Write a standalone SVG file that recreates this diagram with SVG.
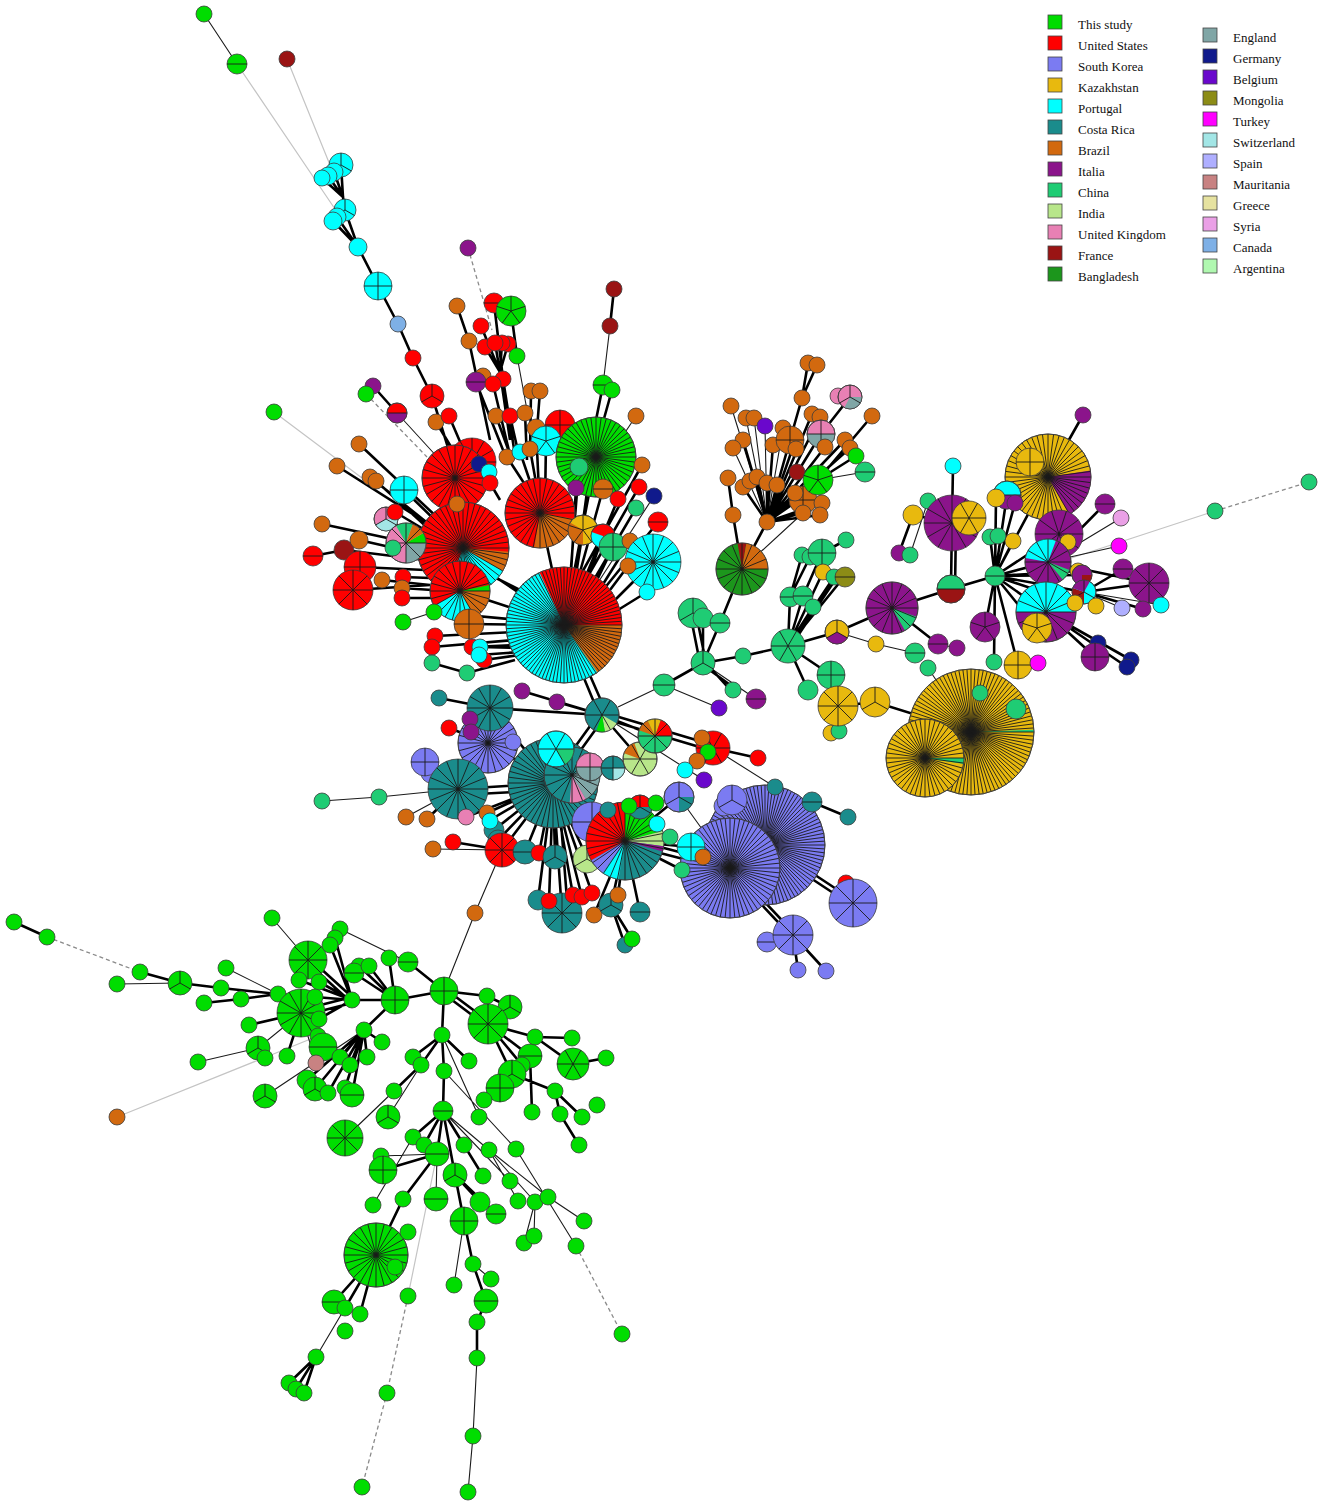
<svg xmlns="http://www.w3.org/2000/svg" xmlns:xlink="http://www.w3.org/1999/xlink" width="1325" height="1508" viewBox="0 0 1325 1508">
<style>
.g{fill:#00DD00}.us{fill:#FF0000}.sk{fill:#7B7BF2}.kz{fill:#E8B90E}.pt{fill:#00FFFF}.cr{fill:#1A8C8C}.br{fill:#D2690F}.it{fill:#8B148B}.cn{fill:#1FCC74}.in{fill:#B8E68A}.uk{fill:#E880B4}.fr{fill:#9A1414}.bd{fill:#1C961C}.en{fill:#80A6A6}.de{fill:#101A8C}.be{fill:#6A08CC}.mn{fill:#8C8C16}.tr{fill:#FF00FF}.ch{fill:#A3E6E6}.es{fill:#AFAFFF}.mr{fill:#C88282}.gr{fill:#E6E2A0}.sy{fill:#EAA0E6}.ca{fill:#7EB0E6}.ar{fill:#B0F8B0}
.nd circle{stroke:#3c3c3c;stroke-width:.8px}
.o{fill:none}
defs path{fill:none;stroke:#1a1a1a;stroke-width:.9px;vector-effect:non-scaling-stroke}
.e1{fill:none;stroke:#000;stroke-width:2.6px}
.e2{fill:none;stroke:#1a1a1a;stroke-width:1.1px}
.e3{fill:none;stroke:#c4c4c4;stroke-width:1.2px}
.e4{fill:none;stroke:#8a8a8a;stroke-width:1.3px;stroke-dasharray:4 3}
.lg rect{stroke:#444;stroke-width:.8px}
.lg text{font-family:"Liberation Serif","Times New Roman",serif;font-size:13px;fill:#111}
</style>
<defs>
<path id="s2" d="M-1 0H1"/>
<path id="s3" d="M0 0V-1M0 0L.87 .5M0 0L-.87 .5"/>
<path id="s4" d="M-1 0H1M0-1V1"/>
<path id="s5" d="M0 0V-1M0 0L.95-.31M0 0L.59 .81M0 0L-.59 .81M0 0L-.95-.31"/>
<path id="s6" d="M-1 0H1M-.5-.87L.5 .87M.5-.87L-.5 .87"/>
<path id="s8" d="M-1 0H1M0-1V1M-.71-.71L.71 .71M.71-.71L-.71 .71"/>
<path id="s10" d="M-1 0H1M-.81-.59L.81 .59M-.31-.95L.31 .95M.31-.95L-.31 .95M.81-.59L-.81 .59"/>
<path id="s12" d="M-1 0H1M0-1V1M-.87-.5L.87 .5M-.5-.87L.5 .87M.87-.5L-.87 .5M.5-.87L-.5 .87"/>
<path id="s16" d="M-1 0H1M0-1V1M-.71-.71L.71 .71M.71-.71L-.71 .71M-.92-.38L.92 .38M-.38-.92L.38 .92M.92-.38L-.92 .38M.38-.92L-.38 .92"/>
<g id="s24"><use href="#s12"/><use href="#s12" transform="rotate(15)"/></g>
<g id="s32"><use href="#s16"/><use href="#s16" transform="rotate(11.25)"/></g>
<g id="s48"><use href="#s16"/><use href="#s16" transform="rotate(7.5)"/><use href="#s16" transform="rotate(15)"/></g>
<g id="s64"><use href="#s32"/><use href="#s32" transform="rotate(5.625)"/></g>
<g id="s96"><use href="#s32"/><use href="#s32" transform="rotate(3.75)"/><use href="#s32" transform="rotate(7.5)"/></g>
</defs>
<rect width="1325" height="1508" fill="#fff"/>
<g id="connectors">
<path class="e3" d="M117 1117L318 1036M437 1154L408 1296M237 64L337 212M287 59L330 165M274 412L362 478M1215 511L1050 565"/>
<path class="e4" d="M47 937L140 972M576 1246L622 1334M408 1296L387 1393L362 1487M468 248L492 330M366 394L427 457M1215 511L1309 482"/>
<path class="e2" d="M204 14L237 64M610 326L603 385M636 416L620 440M517 356L527 410M397 413L440 460M403 622L434 612M433 849L502 850M502 850L475 913L444 991M654 496L590 595M713 748L775 787M618 707L664 685M664 685L719 708M703 663L756 699M742 569L803 513M733 448L767 522M767 522L731 406M767 522L746 418M767 522L754 418M767 522L765 426M767 522L783 428M865 472L818 480M837 632L876 644L915 653M938 644L957 648M928 668L971 732M928 501L910 555M1048 562L1121 518M1048 562L1119 546M1084 592L1122 608M1084 592L1161 605M1018 665L1038 663M602 715L704 780M730 868L679 797M322 801L379 797L458 789M406 817L458 789M117 984L180 983M226 968L278 994M272 918L308 960M340 929L408 962M258 1048L301 1013M265 1058L258 1048M198 1062L258 1048M316 1063L301 1013M265 1096L364 1030M443 1111L489 1150M443 1111L510 1181M394 1091L345 1138M388 1117L421 1065M413 1137L373 1205M437 1154L436 1199M464 1221L454 1285M473 1264L491 1279M477 1358L473 1436L468 1492M345 1308L316 1357M442 1035L479 1117M444 1071L516 1149L576 1246M489 1150L518 1201M489 1150L535 1202M489 1150L548 1197L584 1221M535 1202L524 1243M535 1202L534 1236M437 1154L381 1156"/>
<path class="e1" d="M358 247L378 286L398 324L413 358L432 396L455 470M341 165L343 197M334 172L343 197M328 176L343 197M322 178L343 197M343 197L345 210M345 210L358 247M337 217L358 247M333 221L358 247M457 306L469 341L490 440M481 326L500 372M485 347L500 372M495 343L500 372M502 343L500 372M508 344L500 372M500 372L510 440M494 303L503 379M511 311L517 356M476 382L505 455M493 384L510 455M503 379L515 455M496 416L512 460M510 416L520 460M525 413L527 460M531 391L530 455M540 391L535 455M436 422L465 470M449 416L470 465M614 289L610 326M603 385L592 440M612 390L598 440M373 386L397 413M359 444L440 520M337 466L430 525M370 477L430 525M375 480L430 530M322 524L420 545M313 556L344 550L425 560M359 540L425 555M360 567L425 570M353 590L430 585M382 580L430 585M403 577L430 578M402 588L432 590M402 598L435 598M404 490L440 525M386 519L425 540M395 512L425 530M455 478L463 548M470 560L560 620M480 570L560 610M460 591L564 625M469 624L564 625M540 513L564 625M596 457L564 625M590 470L575 580M579 467L570 580M576 488L570 590M603 489L575 590M639 487L580 590M642 465L575 585M618 499L580 590M636 508L585 595M658 522L595 600M583 530L572 600M603 536L580 600M613 547L585 605M630 541L590 605M628 566L595 610M653 562L600 615M647 592L605 618M536 428L540 513M507 457L535 500M520 452L538 505M530 449L540 505M546 441L545 505M434 612L520 620M435 636L515 632M432 647L515 640M472 647L520 645M480 647L520 648M479 655L520 652M484 660L520 655M432 663L467 673L515 660M490 483L500 500M479 464L490 480M562 625L598 712M568 625L606 712M598 715L549 783M606 715L557 783M490 708L439 698M490 708L602 715M522 691L602 715M557 702L602 715M465 718L488 743M488 743L449 728M488 743L553 783M490 708L553 783M458 789L553 783M458 795L553 790M425 762L458 789M431 772L458 789M427 819L458 789M466 817L553 783M487 813L553 783M490 820L553 783M494 830L553 783M498 840L553 783M502 850L553 783M525 852L553 783M539 853L553 783M555 855L553 783M587 858L553 783M625 841L553 783M625 848L553 790M453 842L502 850M538 900L553 783M549 902L553 783M562 913L553 783M568 913L558 783M573 895L553 783M582 897L553 783M592 893L553 783M594 915L625 841M611 905L625 841M618 895L625 841M640 912L625 841M625 945L611 905M632 939L611 905M602 715L655 736M602 715L640 759M602 712L713 745M602 718L713 751M713 748L758 758M625 841L679 797M625 841L691 847M625 838L730 865M625 844L730 871M625 841L657 824M625 841L670 836M625 841L682 870M625 841L608 810M625 841L629 806M625 841L640 807M625 841L656 803M730 868L732 800M765 845L732 800M765 845L812 802L848 817M765 842L853 900M765 848L853 906M853 903L846 883M730 865L793 932M730 871L793 938M793 935L767 942M793 935L798 970M793 935L826 971M664 685L703 663M700 663L690 613M706 663L696 613M703 663L703 618M703 663L720 623L742 569M703 663L743 656L788 646M700 663L733 687M706 663L733 693M742 569L767 522M742 569L733 515M728 478L733 515M767 522L790 440M767 522L773 445M767 522L793 447M767 522L743 440M767 522L743 487M767 522L757 477M767 522L767 483M767 522L777 485M767 522L795 493M767 522L803 497M767 522L822 503M767 522L803 513M767 522L820 515M767 522L812 414M767 522L820 417M767 522L821 434M767 522L825 447M767 522L845 440M767 522L850 448M767 522L818 480M802 398L808 363M802 398L817 365M802 398L790 440M821 434L850 397M872 416L818 480M856 456L818 480M797 472L818 480M788 646L790 597M788 646L803 596M788 646L813 607M790 597L802 555M790 597L810 557M803 596L822 553L846 540M788 646L834 577M791 646L837 577M788 646L844 577M788 646L823 572M788 646L837 632L892 608M892 608L938 644M788 646L831 675L838 706L875 702L971 732M788 646L808 690M838 706L831 733M838 706L839 731M892 608L951 589L995 576M951 586L952 520M955 589L956 523M952 523L953 466M952 523L913 515L899 553M995 576L1013 541M995 576L990 537M995 576L1007 495M995 576L996 498M995 576L1015 503M995 576L1059 534M995 576L1048 562M995 576L1046 612M995 576L985 627M995 576L994 662M995 576L1018 665M995 576L1037 628M995 576L1048 477M995 576L1082 575M995 576L1084 592M995 576L1078 571M995 576L1075 603M1048 477L1083 415M1048 477L1059 534M1048 562L1105 504M1048 562L1149 583M1084 592L1123 569M1084 592L1149 583M1084 592L1143 609M1046 612L1095 657L1098 643M1046 612L1131 660M1046 612L1127 667M14 922L47 937M140 972L180 983L221 988L278 994M204 1003L241 999L278 994M249 1025L301 1013M278 994L352 1000M301 1010L352 997M301 1016L352 1003M308 957L352 997M308 963L352 1003M335 938L352 1000M330 945L352 1000M299 980L352 1000M319 982L352 1000M315 997L352 1000M319 1019L352 1000M352 1000L395 1000M354 973L395 1000M369 966L395 1000M359 966L395 1000M389 958L395 1000M408 962L444 991M395 1000L444 991L487 996L510 1007M444 988L488 1021M444 994L488 1027M444 991L442 1035L413 1057M442 1035L421 1065L394 1091M442 1035L444 1071L443 1111M442 1035L469 1061M488 1024L535 1037L572 1038M535 1037L573 1064L606 1058M488 1024L530 1056L532 1112M488 1024L522 1065M488 1024L512 1074L500 1088L484 1100M512 1074L555 1091L560 1114L579 1145M555 1091L582 1117M443 1111L413 1137M443 1111L424 1145M443 1111L437 1154M443 1111L464 1145M443 1111L455 1175M443 1111L483 1176M437 1154L403 1199L376 1255M455 1175L464 1221L473 1264L486 1301L477 1322L477 1358M455 1175L480 1202M455 1175L496 1214M376 1255L334 1302M376 1255L345 1308M376 1255L360 1314M316 1357L289 1383M316 1357L296 1389M316 1357L304 1393M364 1030L395 1000M364 1030L315 1089M364 1030L307 1080M364 1030L328 1093M364 1030L340 1057M364 1030L350 1065M364 1030L345 1088M364 1030L352 1095M364 1030L367 1057M364 1030L382 1042M301 1013L318 1036M301 1013L323 1047M301 1013L287 1056M437 1154L383 1170"/>
</g>
<g id="nodes" class="nd">
<g id="n1"><circle class="g" cx="204" cy="14" r="8"/></g>
<g id="n2"><circle class="g" cx="237" cy="64" r="10"/><use href="#s2" transform="translate(237 64) scale(10)"/></g>
<g id="n3"><circle class="fr" cx="287" cy="59" r="8"/></g>
<g id="n4"><circle class="pt" cx="341" cy="165" r="12"/><use href="#s3" transform="translate(341 165) scale(12)"/></g>
<g id="n5"><circle class="pt" cx="334" cy="172" r="9"/></g>
<g id="n6"><circle class="pt" cx="328" cy="176" r="9"/></g>
<g id="n7"><circle class="pt" cx="322" cy="178" r="8"/></g>
<g id="n8"><circle class="pt" cx="345" cy="210" r="11"/><use href="#s3" transform="translate(345 210) scale(11)"/></g>
<g id="n9"><circle class="pt" cx="337" cy="217" r="9"/></g>
<g id="n10"><circle class="pt" cx="333" cy="221" r="9"/></g>
<g id="n11"><circle class="pt" cx="358" cy="247" r="9"/></g>
<g id="n12"><circle class="pt" cx="378" cy="286" r="14"/><use href="#s4" transform="translate(378 286) scale(14)"/></g>
<g id="n13"><circle class="ca" cx="398" cy="324" r="8"/></g>
<g id="n14"><circle class="us" cx="413" cy="358" r="8"/></g>
<g id="n15"><circle class="us" cx="432" cy="396" r="12"/><use href="#s3" transform="translate(432 396) scale(12)"/></g>
<g id="n16"><circle class="it" cx="468" cy="248" r="8"/></g>
<g id="n17"><circle class="us" cx="494" cy="303" r="10"/><use href="#s2" transform="translate(494 303) scale(10)"/></g>
<g id="n18"><circle class="g" cx="511" cy="311" r="15"/><use href="#s5" transform="translate(511 311) scale(15)"/></g>
<g id="n19"><circle class="br" cx="457" cy="306" r="8"/></g>
<g id="n20"><circle class="us" cx="481" cy="326" r="8"/></g>
<g id="n21"><circle class="br" cx="469" cy="341" r="8"/></g>
<g id="n22"><circle class="us" cx="485" cy="347" r="8"/></g>
<g id="n23"><circle class="us" cx="508" cy="344" r="8"/></g>
<g id="n24"><circle class="us" cx="502" cy="343" r="8"/></g>
<g id="n25"><circle class="us" cx="495" cy="343" r="8"/></g>
<g id="n26"><circle class="g" cx="517" cy="356" r="8"/></g>
<g id="n27"><circle class="br" cx="483" cy="376" r="8"/></g>
<g id="n28" transform="translate(476 382)"><circle class="it" r="10"/><use href="#s2" transform="scale(10)"/></g>
<g id="n29"><circle class="us" cx="503" cy="379" r="8"/></g>
<g id="n30"><circle class="us" cx="493" cy="384" r="8"/></g>
<g id="n31"><circle class="br" cx="496" cy="416" r="8"/></g>
<g id="n32"><circle class="us" cx="510" cy="416" r="8"/></g>
<g id="n33"><circle class="br" cx="525" cy="413" r="8"/></g>
<g id="n34"><circle class="br" cx="531" cy="391" r="8"/></g>
<g id="n35"><circle class="br" cx="540" cy="391" r="8"/></g>
<g id="n36"><circle class="br" cx="436" cy="422" r="8"/></g>
<g id="n37"><circle class="us" cx="449" cy="416" r="8"/></g>
<g id="n38"><circle class="fr" cx="614" cy="289" r="8"/></g>
<g id="n39"><circle class="fr" cx="610" cy="326" r="8"/></g>
<g id="n40"><circle class="g" cx="603" cy="385" r="10"/><use href="#s2" transform="translate(603 385) scale(10)"/></g>
<g id="n41"><circle class="g" cx="612" cy="390" r="8"/></g>
<g id="n42"><circle class="br" cx="636" cy="416" r="8"/></g>
<g id="n43"><circle class="g" cx="274" cy="412" r="8"/></g>
<g id="n44"><circle class="it" cx="373" cy="386" r="8"/></g>
<g id="n45"><circle class="g" cx="366" cy="394" r="8"/></g>
<g id="n46" transform="translate(397 413)"><circle class="us" r="10"/><circle class="o" r="5" pathLength="100" style="stroke:#8B148B;stroke-width:10px;stroke-dasharray:50 100"/><use href="#s2" transform="scale(10)"/><circle class="o" r="10"/></g>
<g id="n47"><circle class="br" cx="359" cy="444" r="8"/></g>
<g id="n48"><circle class="br" cx="337" cy="466" r="8"/></g>
<g id="n49"><circle class="br" cx="370" cy="477" r="8"/></g>
<g id="n50"><circle class="br" cx="376" cy="481" r="8"/></g>
<g id="n51"><circle class="br" cx="322" cy="524" r="8"/></g>
<g id="n52"><circle class="us" cx="313" cy="556" r="10"/><use href="#s2" transform="translate(313 556) scale(10)"/></g>
<g id="n53"><circle class="fr" cx="344" cy="550" r="10"/></g>
<g id="n54"><circle class="br" cx="359" cy="540" r="9"/></g>
<g id="n55"><circle class="us" cx="360" cy="567" r="16"/><use href="#s4" transform="translate(360 567) scale(16)"/></g>
<g id="n56"><circle class="us" cx="353" cy="590" r="20"/><use href="#s8" transform="translate(353 590) scale(20)"/></g>
<g id="n57"><circle class="br" cx="382" cy="580" r="8"/></g>
<g id="n58"><circle class="us" cx="403" cy="577" r="8"/></g>
<g id="n59"><circle class="br" cx="402" cy="588" r="8"/></g>
<g id="n60"><circle class="us" cx="402" cy="598" r="8"/></g>
<g id="n66"><circle class="us" cx="472" cy="462" r="24"/><use href="#s12" transform="translate(472 462) scale(24)"/></g>
<g id="n67" transform="translate(455 478)"><circle class="us" r="33"/><use href="#s24" transform="scale(33)"/><circle class="o" r="33"/></g>
<g id="n61"><circle class="pt" cx="404" cy="490" r="14"/><use href="#s4" transform="translate(404 490) scale(14)"/></g>
<g id="n62" transform="translate(386 519)"><circle class="uk" r="12"/><circle class="o" r="6" pathLength="100" style="stroke:#A3E6E6;stroke-width:12px;stroke-dasharray:41.7 100"/><use href="#s3" transform="scale(12)"/><circle class="o" r="12"/></g>
<g id="n63"><circle class="us" cx="395" cy="512" r="8"/></g>
<g id="n72" transform="translate(463 548)"><circle class="us" r="46"/><circle class="o" r="23" pathLength="100" style="stroke:#D2690F;stroke-width:46px;stroke-dasharray:6.94 100;stroke-dashoffset:-1.39"/><circle class="o" r="23" pathLength="100" style="stroke:#00FFFF;stroke-width:46px;stroke-dasharray:22.22 100;stroke-dashoffset:-8.33"/><use href="#s48" transform="scale(46)"/><circle class="o" r="46"/></g>
<g id="n64" transform="translate(406 543)"><circle class="uk" r="20"/><circle class="o" r="10" pathLength="100" style="stroke:#00DD00;stroke-width:20px;stroke-dasharray:8.3 100;stroke-dashoffset:-91.7"/><circle class="o" r="10" pathLength="100" style="stroke:#80A6A6;stroke-width:20px;stroke-dasharray:25 100"/><circle class="o" r="10" pathLength="100" style="stroke:#1FCC74;stroke-width:20px;stroke-dasharray:13.9 100;stroke-dashoffset:-66.7"/><circle class="o" r="10" pathLength="100" style="stroke:#D2690F;stroke-width:20px;stroke-dasharray:11.1 100;stroke-dashoffset:-80.6"/><use href="#s8" transform="scale(20)"/><circle class="o" r="20"/></g>
<g id="n65"><circle class="cn" cx="393" cy="548" r="8"/></g>
<g id="n73" transform="translate(460 591)"><circle class="us" r="30"/><circle class="o" r="15" pathLength="100" style="stroke:#00DD00;stroke-width:30px;stroke-dasharray:3.33 100;stroke-dashoffset:-96.67"/><circle class="o" r="15" pathLength="100" style="stroke:#D2690F;stroke-width:30px;stroke-dasharray:16.67 100"/><circle class="o" r="15" pathLength="100" style="stroke:#00FFFF;stroke-width:30px;stroke-dasharray:25 100;stroke-dashoffset:-16.67"/><use href="#s24" transform="scale(30)"/><circle class="o" r="30"/></g>
<g id="n74"><circle class="br" cx="469" cy="624" r="15"/><use href="#s4" transform="translate(469 624) scale(15)"/></g>
<g id="n68"><circle class="de" cx="479" cy="464" r="8"/></g>
<g id="n69"><circle class="pt" cx="489" cy="472" r="8"/></g>
<g id="n70"><circle class="us" cx="490" cy="483" r="8"/></g>
<g id="n71"><circle class="br" cx="457" cy="504" r="8"/></g>
<g id="n76"><circle class="us" cx="560" cy="425" r="15"/><use href="#s4" transform="translate(560 425) scale(15)"/></g>
<g id="n75" transform="translate(540 513)"><circle class="us" r="35"/><circle class="o" r="17.5" pathLength="100" style="stroke:#D2690F;stroke-width:35px;stroke-dasharray:25 100;stroke-dashoffset:-2.78"/><use href="#s32" transform="scale(35)"/><circle class="o" r="35"/></g>
<g id="n78"><circle class="br" cx="536" cy="428" r="9"/></g>
<g id="n77"><circle class="pt" cx="546" cy="441" r="15"/><use href="#s5" transform="translate(546 441) scale(15)"/></g>
<g id="n79"><circle class="br" cx="507" cy="457" r="8"/></g>
<g id="n80"><circle class="pt" cx="520" cy="452" r="8"/></g>
<g id="n81"><circle class="br" cx="530" cy="449" r="8"/></g>
<g id="n82" transform="translate(596 457)"><circle class="g" r="40"/><use href="#s48" transform="scale(40)"/><circle class="o" r="40"/></g>
<g id="n83"><circle class="cn" cx="579" cy="467" r="9"/></g>
<g id="n84"><circle class="it" cx="576" cy="488" r="8"/></g>
<g id="n85"><circle class="br" cx="603" cy="489" r="10"/><use href="#s2" transform="translate(603 489) scale(10)"/></g>
<g id="n86"><circle class="br" cx="642" cy="465" r="8"/></g>
<g id="n87"><circle class="us" cx="639" cy="487" r="8"/></g>
<g id="n88"><circle class="de" cx="654" cy="496" r="8"/></g>
<g id="n89"><circle class="us" cx="618" cy="499" r="8"/></g>
<g id="n90"><circle class="cn" cx="636" cy="508" r="8"/></g>
<g id="n91"><circle class="us" cx="658" cy="522" r="10"/><use href="#s2" transform="translate(658 522) scale(10)"/></g>
<g id="n92" transform="translate(583 530)"><circle class="kz" r="15"/><circle class="o" r="7.5" pathLength="100" style="stroke:#D2690F;stroke-width:15px;stroke-dasharray:33.3 100;stroke-dashoffset:-25"/><use href="#s5" transform="scale(15)"/><circle class="o" r="15"/></g>
<g id="n93" transform="translate(603 536)"><circle class="us" r="12"/><circle class="o" r="6" pathLength="100" style="stroke:#00FFFF;stroke-width:12px;stroke-dasharray:30.6 100;stroke-dashoffset:-25"/><circle class="o" r="12"/></g>
<g id="n94"><circle class="cn" cx="613" cy="547" r="14"/><use href="#s4" transform="translate(613 547) scale(14)"/></g>
<g id="n95"><circle class="br" cx="630" cy="541" r="8"/></g>
<g id="n97"><circle class="pt" cx="653" cy="562" r="28"/><use href="#s16" transform="translate(653 562) scale(28)"/></g>
<g id="n96"><circle class="br" cx="628" cy="566" r="8"/></g>
<g id="n98"><circle class="pt" cx="647" cy="592" r="8"/></g>
<g id="n99" transform="translate(564 625)"><circle class="pt" r="58"/><circle class="o" r="29" pathLength="100" style="stroke:#FF0000;stroke-width:58px;stroke-dasharray:31.94 100;stroke-dashoffset:-68.06"/><circle class="o" r="29" pathLength="100" style="stroke:#D2690F;stroke-width:58px;stroke-dasharray:15.28 100"/><use href="#s96" transform="scale(58)"/><circle class="o" r="58"/></g>
<g id="n100"><circle class="g" cx="434" cy="612" r="8"/></g>
<g id="n101"><circle class="g" cx="403" cy="622" r="8"/></g>
<g id="n102"><circle class="us" cx="435" cy="636" r="8"/></g>
<g id="n103"><circle class="us" cx="432" cy="647" r="8"/></g>
<g id="n104"><circle class="cn" cx="432" cy="663" r="8"/></g>
<g id="n105"><circle class="cn" cx="467" cy="673" r="8"/></g>
<g id="n106"><circle class="us" cx="472" cy="647" r="8"/></g>
<g id="n109"><circle class="us" cx="484" cy="660" r="8"/></g>
<g id="n107"><circle class="pt" cx="480" cy="647" r="8"/></g>
<g id="n108"><circle class="pt" cx="479" cy="655" r="8"/></g>
<g id="n110"><circle class="cr" cx="439" cy="698" r="8"/></g>
<g id="n113"><circle class="us" cx="449" cy="728" r="8"/></g>
<g id="n114"><circle class="it" cx="522" cy="691" r="8"/></g>
<g id="n115"><circle class="it" cx="557" cy="702" r="8"/></g>
<g id="n117" transform="translate(488 743)"><circle class="sk" r="30"/><use href="#s24" transform="scale(30)"/><circle class="o" r="30"/></g>
<g id="n118"><circle class="sk" cx="513" cy="742" r="8"/></g>
<g id="n116"><circle class="cr" cx="490" cy="708" r="23"/><use href="#s12" transform="translate(490 708) scale(23)"/></g>
<g id="n111"><circle class="it" cx="470" cy="719" r="8"/></g>
<g id="n112"><circle class="it" cx="471" cy="732" r="8"/></g>
<g id="n120"><circle class="sk" cx="431" cy="773" r="10"/></g>
<g id="n119"><circle class="sk" cx="425" cy="762" r="14"/><use href="#s4" transform="translate(425 762) scale(14)"/></g>
<g id="n121"><circle class="cr" cx="458" cy="789" r="30"/><use href="#s16" transform="translate(458 789) scale(30)"/></g>
<g id="n122"><circle class="cn" cx="322" cy="801" r="8"/></g>
<g id="n123"><circle class="cn" cx="379" cy="797" r="8"/></g>
<g id="n124"><circle class="br" cx="406" cy="817" r="8"/></g>
<g id="n125"><circle class="br" cx="427" cy="819" r="8"/></g>
<g id="n126"><circle class="uk" cx="466" cy="817" r="8"/></g>
<g id="n140" transform="translate(553 783)"><circle class="cr" r="45"/><use href="#s48" transform="scale(45)"/><circle class="o" r="45"/></g>
<g id="n141" transform="translate(572 775)"><circle class="cr" r="28"/><circle class="o" r="14" pathLength="100" style="stroke:#80A6A6;stroke-width:28px;stroke-dasharray:16.7 100"/><circle class="o" r="14" pathLength="100" style="stroke:#80A6A6;stroke-width:28px;stroke-dasharray:8.3 100;stroke-dashoffset:-91.7"/><circle class="o" r="14" pathLength="100" style="stroke:#E880B4;stroke-width:28px;stroke-dasharray:9.7 100;stroke-dashoffset:-16.7"/><use href="#s16" transform="scale(28)"/><circle class="o" r="28"/></g>
<g id="n129"><circle class="cr" cx="494" cy="830" r="10"/></g>
<g id="n130"><circle class="cr" cx="498" cy="840" r="10"/></g>
<g id="n127"><circle class="br" cx="487" cy="813" r="8"/></g>
<g id="n128"><circle class="pt" cx="490" cy="821" r="8"/></g>
<g id="n131"><circle class="br" cx="433" cy="849" r="8"/></g>
<g id="n132"><circle class="us" cx="453" cy="842" r="8"/></g>
<g id="n133"><circle class="us" cx="502" cy="850" r="17"/><use href="#s8" transform="translate(502 850) scale(17)"/></g>
<g id="n134"><circle class="cr" cx="525" cy="852" r="12"/><use href="#s2" transform="translate(525 852) scale(12)"/></g>
<g id="n135"><circle class="us" cx="539" cy="853" r="8"/></g>
<g id="n136"><circle class="cr" cx="555" cy="857" r="12"/><use href="#s3" transform="translate(555 857) scale(12)"/></g>
<g id="n138"><circle class="in" cx="587" cy="859" r="14"/><use href="#s3" transform="translate(587 859) scale(14)"/></g>
<g id="n142" transform="translate(556 749)"><circle class="pt" r="18"/><circle class="o" r="9" pathLength="100" style="stroke:#1FCC74;stroke-width:18px;stroke-dasharray:16.7 100"/><use href="#s6" transform="scale(18)"/><circle class="o" r="18"/></g>
<g id="n143" transform="translate(590 767)"><circle class="en" r="14"/><circle class="o" r="7" pathLength="100" style="stroke:#E880B4;stroke-width:14px;stroke-dasharray:50 100;stroke-dashoffset:-50"/><use href="#s4" transform="scale(14)"/><circle class="o" r="14"/></g>
<g id="n144" transform="translate(613 768)"><circle class="cr" r="12"/><circle class="o" r="6" pathLength="100" style="stroke:#A3E6E6;stroke-width:12px;stroke-dasharray:25 100"/><use href="#s4" transform="scale(12)"/><circle class="o" r="12"/></g>
<g id="n145" transform="translate(602 715)"><circle class="cr" r="17"/><circle class="o" r="8.5" pathLength="100" style="stroke:#B8E68A;stroke-width:17px;stroke-dasharray:13.9 100;stroke-dashoffset:-8.3"/><circle class="o" r="8.5" pathLength="100" style="stroke:#00DD00;stroke-width:17px;stroke-dasharray:8.3 100;stroke-dashoffset:-22.2"/><use href="#s6" transform="scale(17)"/><circle class="o" r="17"/></g>
<g id="n147" transform="translate(640 759)"><circle class="in" r="17"/><circle class="o" r="8.5" pathLength="100" style="stroke:#D2690F;stroke-width:17px;stroke-dasharray:13.9 100;stroke-dashoffset:-55.6"/><use href="#s6" transform="scale(17)"/><circle class="o" r="17"/></g>
<g id="n146" transform="translate(655 736)"><circle class="cn" r="17"/><circle class="o" r="8.5" pathLength="100" style="stroke:#D2690F;stroke-width:17px;stroke-dasharray:12.5 100;stroke-dashoffset:-55.6"/><circle class="o" r="8.5" pathLength="100" style="stroke:#E8B90E;stroke-width:17px;stroke-dasharray:12.5 100;stroke-dashoffset:-68"/><circle class="o" r="8.5" pathLength="100" style="stroke:#FF0000;stroke-width:17px;stroke-dasharray:19.4 100;stroke-dashoffset:-80.6"/><use href="#s8" transform="scale(17)"/><circle class="o" r="17"/></g>
<g id="n148"><circle class="us" cx="713" cy="748" r="17"/><use href="#s6" transform="translate(713 748) scale(17)"/></g>
<g id="n148b"><circle class="br" cx="702" cy="738" r="8"/></g>
<g id="n148c"><circle class="g" cx="708" cy="752" r="8"/></g>
<g id="n148d"><circle class="br" cx="697" cy="761" r="8"/></g>
<g id="n149"><circle class="us" cx="758" cy="758" r="8"/></g>
<g id="n151"><circle class="pt" cx="685" cy="770" r="8"/></g>
<g id="n150"><circle class="be" cx="704" cy="780" r="8"/></g>
<g id="n154"><circle class="sk" cx="592" cy="822" r="20"/><use href="#s4" transform="translate(592 822) scale(20)"/></g>
<g id="n153" transform="translate(625 841)"><circle class="cr" r="39"/><circle class="o" r="19.5" pathLength="100" style="stroke:#FF0000;stroke-width:39px;stroke-dasharray:33.3 100;stroke-dashoffset:-41.7"/><circle class="o" r="19.5" pathLength="100" style="stroke:#00DD00;stroke-width:39px;stroke-dasharray:20.8 100;stroke-dashoffset:-75"/><circle class="o" r="19.5" pathLength="100" style="stroke:#B8E68A;stroke-width:39px;stroke-dasharray:4.2 100;stroke-dashoffset:-95.8"/><circle class="o" r="19.5" pathLength="100" style="stroke:#B8E68A;stroke-width:39px;stroke-dasharray:2.2 100"/><circle class="o" r="19.5" pathLength="100" style="stroke:#8B148B;stroke-width:39px;stroke-dasharray:2.2 100;stroke-dashoffset:-2.2"/><circle class="o" r="19.5" pathLength="100" style="stroke:#00FFFF;stroke-width:39px;stroke-dasharray:6.9 100;stroke-dashoffset:-27.8"/><circle class="o" r="19.5" pathLength="100" style="stroke:#7B7BF2;stroke-width:39px;stroke-dasharray:6.9 100;stroke-dashoffset:-34.7"/><use href="#s32" transform="scale(39)"/><circle class="o" r="39"/></g>
<g id="n155"><circle class="cr" cx="608" cy="810" r="8"/></g>
<g id="n157" transform="translate(640 807)"><circle class="us" r="12"/><circle class="o" r="6" pathLength="100" style="stroke:#1A8C8C;stroke-width:12px;stroke-dasharray:50 100"/><use href="#s3" transform="scale(12)"/><circle class="o" r="12"/></g>
<g id="n156"><circle class="g" cx="629" cy="806" r="8"/></g>
<g id="n158"><circle class="g" cx="656" cy="803" r="8"/></g>
<g id="n159"><circle class="pt" cx="657" cy="824" r="8"/></g>
<g id="n165" transform="translate(765 845)"><circle class="sk" r="60"/><use href="#s96" transform="scale(60)"/><circle class="o" r="60"/></g>
<g id="n167b"><circle class="sk" cx="724" cy="806" r="10"/></g>
<g id="n167"><circle class="sk" cx="732" cy="800" r="15"/><use href="#s3" transform="translate(732 800) scale(15)"/></g>
<g id="n166" transform="translate(730 868)"><circle class="sk" r="50"/><use href="#s64" transform="scale(50)"/><circle class="o" r="50"/></g>
<g id="n161" transform="translate(679 797)"><circle class="sk" r="15"/><circle class="o" r="7.5" pathLength="100" style="stroke:#1A8C8C;stroke-width:15px;stroke-dasharray:25 100"/><use href="#s3" transform="scale(15)"/><circle class="o" r="15"/></g>
<g id="n160"><circle class="cn" cx="670" cy="837" r="8"/></g>
<g id="n162"><circle class="pt" cx="691" cy="847" r="14"/><use href="#s4" transform="translate(691 847) scale(14)"/></g>
<g id="n163"><circle class="br" cx="703" cy="857" r="8"/></g>
<g id="n164"><circle class="cn" cx="682" cy="870" r="8"/></g>
<g id="n168"><circle class="cr" cx="775" cy="787" r="8"/></g>
<g id="n169"><circle class="cr" cx="812" cy="802" r="10"/><use href="#s2" transform="translate(812 802) scale(10)"/></g>
<g id="n170"><circle class="cr" cx="848" cy="817" r="8"/></g>
<g id="n171"><circle class="us" cx="846" cy="883" r="8"/></g>
<g id="n172"><circle class="sk" cx="853" cy="903" r="24"/><use href="#s8" transform="translate(853 903) scale(24)"/></g>
<g id="n174"><circle class="sk" cx="767" cy="942" r="10"/><use href="#s2" transform="translate(767 942) scale(10)"/></g>
<g id="n173"><circle class="sk" cx="793" cy="935" r="20"/><use href="#s8" transform="translate(793 935) scale(20)"/></g>
<g id="n175"><circle class="sk" cx="798" cy="970" r="8"/></g>
<g id="n176"><circle class="sk" cx="826" cy="971" r="8"/></g>
<g id="n177"><circle class="cr" cx="538" cy="900" r="10"/></g>
<g id="n179"><circle class="cr" cx="562" cy="913" r="20"/><use href="#s8" transform="translate(562 913) scale(20)"/></g>
<g id="n178"><circle class="us" cx="549" cy="901" r="8"/></g>
<g id="n180"><circle class="us" cx="573" cy="895" r="8"/></g>
<g id="n180b"><circle class="us" cx="582" cy="897" r="8"/></g>
<g id="n181"><circle class="us" cx="592" cy="893" r="8"/></g>
<g id="n182"><circle class="br" cx="594" cy="915" r="8"/></g>
<g id="n183"><circle class="cr" cx="611" cy="905" r="12"/><use href="#s3" transform="translate(611 905) scale(12)"/></g>
<g id="n184"><circle class="br" cx="618" cy="895" r="8"/></g>
<g id="n185"><circle class="cr" cx="640" cy="912" r="10"/><use href="#s2" transform="translate(640 912) scale(10)"/></g>
<g id="n186"><circle class="cr" cx="625" cy="945" r="8"/></g>
<g id="n187"><circle class="g" cx="632" cy="939" r="8"/></g>
<g id="n188"><circle class="br" cx="475" cy="913" r="8"/></g>
<g id="c1"><circle class="cn" cx="693" cy="613" r="15"/><use href="#s3" transform="translate(693 613) scale(15)"/></g>
<g id="c2"><circle class="cn" cx="703" cy="618" r="10"/></g>
<g id="c3"><circle class="cn" cx="720" cy="623" r="10"/><use href="#s2" transform="translate(720 623) scale(10)"/></g>
<g id="c4"><circle class="cn" cx="703" cy="663" r="12"/><use href="#s3" transform="translate(703 663) scale(12)"/></g>
<g id="c5"><circle class="cn" cx="743" cy="656" r="8"/></g>
<g id="c7"><circle class="cn" cx="664" cy="685" r="11"/><use href="#s2" transform="translate(664 685) scale(11)"/></g>
<g id="c8"><circle class="cn" cx="733" cy="690" r="8"/></g>
<g id="c9"><circle class="it" cx="756" cy="699" r="10"/><use href="#s2" transform="translate(756 699) scale(10)"/></g>
<g id="c10"><circle class="be" cx="719" cy="708" r="8"/></g>
<g id="c11" transform="translate(742 569)"><circle class="bd" r="26"/><circle class="o" r="13" pathLength="100" style="stroke:#9A1414;stroke-width:26px;stroke-dasharray:5.56 100;stroke-dashoffset:-72.2"/><circle class="o" r="13" pathLength="100" style="stroke:#D2690F;stroke-width:26px;stroke-dasharray:22.22 100;stroke-dashoffset:-77.78"/><use href="#s16" transform="scale(26)"/><circle class="o" r="26"/></g>
<g id="b1"><circle class="br" cx="808" cy="363" r="8"/></g>
<g id="b2"><circle class="br" cx="817" cy="365" r="8"/></g>
<g id="b3"><circle class="br" cx="802" cy="398" r="8"/></g>
<g id="b4"><circle class="br" cx="731" cy="406" r="8"/></g>
<g id="b5"><circle class="br" cx="746" cy="418" r="8"/></g>
<g id="b6"><circle class="br" cx="754" cy="418" r="8"/></g>
<g id="b7"><circle class="be" cx="765" cy="426" r="8"/></g>
<g id="b8"><circle class="br" cx="783" cy="428" r="8"/></g>
<g id="b9"><circle class="br" cx="773" cy="445" r="8"/></g>
<g id="b10"><circle class="br" cx="790" cy="440" r="14"/><use href="#s4" transform="translate(790 440) scale(14)"/></g>
<g id="b11"><circle class="br" cx="796" cy="449" r="8"/></g>
<g id="b12"><circle class="br" cx="743" cy="440" r="8"/></g>
<g id="b13"><circle class="br" cx="733" cy="448" r="8"/></g>
<g id="b14"><circle class="br" cx="812" cy="414" r="8"/></g>
<g id="b15"><circle class="br" cx="820" cy="417" r="8"/></g>
<g id="b16"><circle class="uk" cx="838" cy="396" r="8"/></g>
<g id="b17" transform="translate(850 397)"><circle class="uk" r="12"/><circle class="o" r="6" pathLength="100" style="stroke:#80A6A6;stroke-width:12px;stroke-dasharray:33 100"/><use href="#s3" transform="scale(12)"/><circle class="o" r="12"/></g>
<g id="b18" transform="translate(821 434)"><circle class="uk" r="14"/><circle class="o" r="7" pathLength="100" style="stroke:#80A6A6;stroke-width:14px;stroke-dasharray:50 100"/><use href="#s4" transform="scale(14)"/><circle class="o" r="14"/></g>
<g id="b19"><circle class="br" cx="872" cy="416" r="8"/></g>
<g id="b20"><circle class="br" cx="825" cy="447" r="8"/></g>
<g id="b21"><circle class="br" cx="845" cy="440" r="8"/></g>
<g id="b22"><circle class="br" cx="850" cy="448" r="8"/></g>
<g id="b23"><circle class="g" cx="856" cy="456" r="8"/></g>
<g id="b24"><circle class="cn" cx="865" cy="472" r="10"/><use href="#s2" transform="translate(865 472) scale(10)"/></g>
<g id="b25"><circle class="fr" cx="797" cy="472" r="8"/></g>
<g id="b26"><circle class="br" cx="728" cy="478" r="8"/></g>
<g id="b27"><circle class="br" cx="743" cy="487" r="8"/></g>
<g id="b28"><circle class="br" cx="750" cy="481" r="8"/></g>
<g id="b29"><circle class="br" cx="757" cy="477" r="8"/></g>
<g id="b30"><circle class="br" cx="767" cy="483" r="8"/></g>
<g id="b31"><circle class="br" cx="777" cy="485" r="8"/></g>
<g id="b32"><circle class="br" cx="803" cy="500" r="14"/><use href="#s4" transform="translate(803 500) scale(14)"/></g>
<g id="b33"><circle class="br" cx="795" cy="493" r="8"/></g>
<g id="b34"><circle class="br" cx="822" cy="503" r="8"/></g>
<g id="b35"><circle class="br" cx="803" cy="513" r="8"/></g>
<g id="b36"><circle class="br" cx="820" cy="515" r="8"/></g>
<g id="b37"><circle class="g" cx="818" cy="480" r="15"/><use href="#s5" transform="translate(818 480) scale(15)"/></g>
<g id="b38"><circle class="br" cx="767" cy="522" r="8"/></g>
<g id="b39"><circle class="br" cx="733" cy="515" r="8"/></g>
<g id="d1"><circle class="cn" cx="802" cy="555" r="8"/></g>
<g id="d2"><circle class="cn" cx="810" cy="557" r="8"/></g>
<g id="d3"><circle class="cn" cx="822" cy="553" r="14"/><use href="#s4" transform="translate(822 553) scale(14)"/></g>
<g id="d4"><circle class="cn" cx="846" cy="540" r="8"/></g>
<g id="d5"><circle class="kz" cx="823" cy="572" r="8"/></g>
<g id="d6"><circle class="cn" cx="834" cy="577" r="8"/></g>
<g id="d7"><circle class="mn" cx="845" cy="577" r="10"/><use href="#s2" transform="translate(845 577) scale(10)"/></g>
<g id="d8"><circle class="cn" cx="790" cy="597" r="10"/><use href="#s2" transform="translate(790 597) scale(10)"/></g>
<g id="d9"><circle class="cn" cx="803" cy="596" r="10"/><use href="#s2" transform="translate(803 596) scale(10)"/></g>
<g id="d10"><circle class="cn" cx="813" cy="607" r="8"/></g>
<g id="d11"><circle class="cn" cx="788" cy="646" r="17"/><use href="#s6" transform="translate(788 646) scale(17)"/></g>
<g id="d12" transform="translate(837 632)"><circle class="kz" r="12"/><circle class="o" r="6" pathLength="100" style="stroke:#8B148B;stroke-width:12px;stroke-dasharray:33.3 100;stroke-dashoffset:-8.3"/><use href="#s3" transform="scale(12)"/><circle class="o" r="12"/></g>
<g id="d13"><circle class="kz" cx="876" cy="644" r="8"/></g>
<g id="d14"><circle class="cn" cx="915" cy="653" r="10"/><use href="#s2" transform="translate(915 653) scale(10)"/></g>
<g id="d15"><circle class="cn" cx="928" cy="668" r="8"/></g>
<g id="d16"><circle class="it" cx="938" cy="644" r="10"/><use href="#s2" transform="translate(938 644) scale(10)"/></g>
<g id="d17"><circle class="it" cx="957" cy="648" r="8"/></g>
<g id="d18"><circle class="cn" cx="808" cy="690" r="10"/></g>
<g id="d19"><circle class="cn" cx="831" cy="675" r="14"/><use href="#s4" transform="translate(831 675) scale(14)"/></g>
<g id="d20"><circle class="kz" cx="831" cy="733" r="8"/></g>
<g id="d21"><circle class="cn" cx="839" cy="731" r="8"/></g>
<g id="d22"><circle class="kz" cx="838" cy="706" r="20"/><use href="#s8" transform="translate(838 706) scale(20)"/></g>
<g id="d23"><circle class="kz" cx="875" cy="702" r="15"/><use href="#s3" transform="translate(875 702) scale(15)"/></g>
<g id="d24" transform="translate(971 732)"><circle class="kz" r="63"/><circle class="o" r="31.5" pathLength="100" style="stroke:#1FCC74;stroke-width:63px;stroke-dasharray:1.2 100;stroke-dashoffset:-99.4"/><use href="#s96" transform="scale(63)"/><circle class="o" r="63"/></g>
<g id="d25"><circle class="cn" cx="980" cy="693" r="8"/></g>
<g id="d26"><circle class="cn" cx="1016" cy="709" r="10"/></g>
<g id="d27" transform="translate(925 758)"><circle class="kz" r="39"/><circle class="o" r="19.5" pathLength="100" style="stroke:#1FCC74;stroke-width:39px;stroke-dasharray:2.5 100"/><use href="#s48" transform="scale(39)"/><circle class="o" r="39"/></g>
<g id="r1" transform="translate(892 608)"><circle class="it" r="26"/><circle class="o" r="13" pathLength="100" style="stroke:#1FCC74;stroke-width:26px;stroke-dasharray:11.1 100;stroke-dashoffset:-5.56"/><use href="#s16" transform="scale(26)"/><circle class="o" r="26"/></g>
<g id="r2"><circle class="it" cx="899" cy="553" r="8"/></g>
<g id="r3"><circle class="cn" cx="910" cy="555" r="8"/></g>
<g id="r4"><circle class="kz" cx="913" cy="515" r="10"/></g>
<g id="r5"><circle class="cn" cx="928" cy="501" r="8"/></g>
<g id="r6"><circle class="pt" cx="953" cy="466" r="8"/></g>
<g id="r7"><circle class="it" cx="952" cy="523" r="28"/><use href="#s12" transform="translate(952 523) scale(28)"/></g>
<g id="r8"><circle class="kz" cx="969" cy="518" r="17"/><use href="#s6" transform="translate(969 518) scale(17)"/></g>
<g id="r9" transform="translate(951 589)"><circle class="cn" r="14"/><circle class="o" r="7" pathLength="100" style="stroke:#9A1414;stroke-width:14px;stroke-dasharray:50 100"/><use href="#s2" transform="scale(14)"/><circle class="o" r="14"/></g>
<g id="r10" transform="translate(1048 477)"><circle class="kz" r="43"/><circle class="o" r="21.5" pathLength="100" style="stroke:#8B148B;stroke-width:43px;stroke-dasharray:16.7 100"/><circle class="o" r="21.5" pathLength="100" style="stroke:#8B148B;stroke-width:43px;stroke-dasharray:2.5 100;stroke-dashoffset:-97.5"/><use href="#s48" transform="scale(43)"/><circle class="o" r="43"/></g>
<g id="r11"><circle class="kz" cx="1030" cy="462" r="14"/><use href="#s4" transform="translate(1030 462) scale(14)"/></g>
<g id="r12"><circle class="it" cx="1083" cy="415" r="8"/></g>
<g id="r13" transform="translate(1007 495)"><circle class="pt" r="14"/><circle class="o" r="7" pathLength="100" style="stroke:#8B148B;stroke-width:14px;stroke-dasharray:50 100"/><use href="#s2" transform="scale(14)"/><circle class="o" r="14"/></g>
<g id="r14"><circle class="kz" cx="996" cy="498" r="9"/></g>
<g id="r15"><circle class="it" cx="1015" cy="503" r="8"/></g>
<g id="r16"><circle class="kz" cx="1013" cy="541" r="8"/></g>
<g id="r17"><circle class="cn" cx="990" cy="537" r="8"/></g>
<g id="r18"><circle class="cn" cx="998" cy="536" r="8"/></g>
<g id="r19"><circle class="it" cx="1059" cy="534" r="24"/><use href="#s10" transform="translate(1059 534) scale(24)"/></g>
<g id="r20"><circle class="kz" cx="1068" cy="542" r="8"/></g>
<g id="r21" transform="translate(1048 562)"><circle class="it" r="23"/><circle class="o" r="11.5" pathLength="100" style="stroke:#00FFFF;stroke-width:23px;stroke-dasharray:27.8 100;stroke-dashoffset:-52.8"/><circle class="o" r="11.5" pathLength="100" style="stroke:#1FCC74;stroke-width:23px;stroke-dasharray:8.3 100;stroke-dashoffset:-5.6"/><use href="#s12" transform="scale(23)"/><circle class="o" r="23"/></g>
<g id="r22"><circle class="cn" cx="995" cy="576" r="10"/><use href="#s2" transform="translate(995 576) scale(10)"/></g>
<g id="r23" transform="translate(1046 612)"><circle class="it" r="30"/><circle class="o" r="15" pathLength="100" style="stroke:#00FFFF;stroke-width:30px;stroke-dasharray:50 100;stroke-dashoffset:-50"/><use href="#s16" transform="scale(30)"/><circle class="o" r="30"/></g>
<g id="r24"><circle class="it" cx="985" cy="627" r="15"/><use href="#s5" transform="translate(985 627) scale(15)"/></g>
<g id="r25"><circle class="kz" cx="1037" cy="628" r="15"/><use href="#s5" transform="translate(1037 628) scale(15)"/></g>
<g id="r26"><circle class="cn" cx="994" cy="662" r="8"/></g>
<g id="r27"><circle class="kz" cx="1018" cy="665" r="14"/><use href="#s4" transform="translate(1018 665) scale(14)"/></g>
<g id="r28"><circle class="tr" cx="1038" cy="663" r="8"/></g>
<g id="r29"><circle class="it" cx="1105" cy="504" r="10"/><use href="#s2" transform="translate(1105 504) scale(10)"/></g>
<g id="r30"><circle class="sy" cx="1121" cy="518" r="8"/></g>
<g id="r31"><circle class="tr" cx="1119" cy="546" r="8"/></g>
<g id="r32"><circle class="cn" cx="1215" cy="511" r="8"/></g>
<g id="r33"><circle class="cn" cx="1309" cy="482" r="8"/></g>
<g id="r34"><circle class="it" cx="1123" cy="569" r="10"/><use href="#s2" transform="translate(1123 569) scale(10)"/></g>
<g id="r35"><circle class="it" cx="1149" cy="583" r="20"/><use href="#s8" transform="translate(1149 583) scale(20)"/></g>
<g id="r36"><circle class="es" cx="1122" cy="608" r="8"/></g>
<g id="r37"><circle class="pt" cx="1161" cy="605" r="8"/></g>
<g id="r38"><circle class="it" cx="1143" cy="609" r="8"/></g>
<g id="r39"><circle class="kz" cx="1078" cy="571" r="8"/></g>
<g id="r40" transform="translate(1082 575)"><circle class="it" r="10"/><circle class="o" r="5" pathLength="100" style="stroke:#9A1414;stroke-width:10px;stroke-dasharray:25 100"/><circle class="o" r="10"/></g>
<g id="r41" transform="translate(1084 592)"><circle class="pt" r="12"/><circle class="o" r="6" pathLength="100" style="stroke:#9A1414;stroke-width:12px;stroke-dasharray:30.6 100;stroke-dashoffset:-25"/><circle class="o" r="6" pathLength="100" style="stroke:#8B148B;stroke-width:12px;stroke-dasharray:27.8 100;stroke-dashoffset:-55.6"/><use href="#s3" transform="scale(12)"/><circle class="o" r="12"/></g>
<g id="r42"><circle class="kz" cx="1075" cy="603" r="8"/></g>
<g id="r43"><circle class="kz" cx="1096" cy="606" r="8"/></g>
<g id="r44"><circle class="de" cx="1098" cy="643" r="8"/></g>
<g id="r45"><circle class="it" cx="1095" cy="657" r="14"/><use href="#s4" transform="translate(1095 657) scale(14)"/></g>
<g id="r46"><circle class="de" cx="1131" cy="660" r="8"/></g>
<g id="r47"><circle class="de" cx="1127" cy="667" r="8"/></g>
<g id="g1"><circle class="g" cx="14" cy="922" r="8"/></g>
<g id="g2"><circle class="g" cx="47" cy="937" r="8"/></g>
<g id="g3"><circle class="g" cx="140" cy="972" r="8"/></g>
<g id="g4"><circle class="g" cx="117" cy="984" r="8"/></g>
<g id="g5"><circle class="g" cx="180" cy="983" r="12"/><use href="#s3" transform="translate(180 983) scale(12)"/></g>
<g id="g6"><circle class="g" cx="221" cy="988" r="8"/></g>
<g id="g7"><circle class="g" cx="204" cy="1003" r="8"/></g>
<g id="g8"><circle class="g" cx="241" cy="999" r="8"/></g>
<g id="g9"><circle class="g" cx="226" cy="968" r="8"/></g>
<g id="g10"><circle class="g" cx="272" cy="918" r="8"/></g>
<g id="g11"><circle class="g" cx="249" cy="1025" r="8"/></g>
<g id="g12"><circle class="g" cx="278" cy="994" r="8"/></g>
<g id="g13"><circle class="g" cx="301" cy="1013" r="24"/><use href="#s12" transform="translate(301 1013) scale(24)"/></g>
<g id="g14"><circle class="g" cx="308" cy="960" r="19"/><use href="#s8" transform="translate(308 960) scale(19)"/></g>
<g id="g15"><circle class="g" cx="340" cy="929" r="8"/></g>
<g id="g16"><circle class="g" cx="335" cy="938" r="8"/></g>
<g id="g17"><circle class="g" cx="330" cy="945" r="8"/></g>
<g id="g18"><circle class="g" cx="299" cy="980" r="8"/></g>
<g id="g19"><circle class="g" cx="319" cy="982" r="8"/></g>
<g id="g20"><circle class="g" cx="315" cy="997" r="8"/></g>
<g id="g21"><circle class="g" cx="319" cy="1019" r="8"/></g>
<g id="g22"><circle class="g" cx="352" cy="1000" r="8"/></g>
<g id="g25"><circle class="g" cx="359" cy="966" r="8"/></g>
<g id="g23"><circle class="g" cx="354" cy="973" r="10"/><use href="#s2" transform="translate(354 973) scale(10)"/></g>
<g id="g24"><circle class="g" cx="369" cy="966" r="8"/></g>
<g id="g26"><circle class="g" cx="389" cy="958" r="8"/></g>
<g id="g27"><circle class="g" cx="408" cy="962" r="10"/><use href="#s2" transform="translate(408 962) scale(10)"/></g>
<g id="g28"><circle class="g" cx="395" cy="1000" r="14"/><use href="#s4" transform="translate(395 1000) scale(14)"/></g>
<g id="g29"><circle class="g" cx="444" cy="991" r="14"/><use href="#s4" transform="translate(444 991) scale(14)"/></g>
<g id="g30"><circle class="g" cx="487" cy="996" r="8"/></g>
<g id="g31"><circle class="g" cx="510" cy="1007" r="12"/><use href="#s3" transform="translate(510 1007) scale(12)"/></g>
<g id="g32"><circle class="g" cx="488" cy="1024" r="20"/><use href="#s8" transform="translate(488 1024) scale(20)"/></g>
<g id="g33"><circle class="g" cx="318" cy="1036" r="8"/></g>
<g id="g34"><circle class="g" cx="323" cy="1047" r="14"/><use href="#s2" transform="translate(323 1047) scale(14)"/></g>
<g id="g35"><circle class="g" cx="258" cy="1048" r="12"/><use href="#s3" transform="translate(258 1048) scale(12)"/></g>
<g id="g36"><circle class="g" cx="265" cy="1058" r="8"/></g>
<g id="g37"><circle class="g" cx="287" cy="1056" r="8"/></g>
<g id="g38"><circle class="g" cx="198" cy="1062" r="8"/></g>
<g id="g38m"><circle class="mr" cx="316" cy="1063" r="8"/></g>
<g id="g38b"><circle class="br" cx="117" cy="1117" r="8"/></g>
<g id="g39"><circle class="g" cx="307" cy="1080" r="10"/></g>
<g id="g40"><circle class="g" cx="315" cy="1089" r="12"/><use href="#s3" transform="translate(315 1089) scale(12)"/></g>
<g id="g41"><circle class="g" cx="328" cy="1093" r="8"/></g>
<g id="g42"><circle class="g" cx="340" cy="1057" r="8"/></g>
<g id="g43"><circle class="g" cx="350" cy="1065" r="8"/></g>
<g id="g44"><circle class="g" cx="364" cy="1030" r="8"/></g>
<g id="g45"><circle class="g" cx="367" cy="1057" r="8"/></g>
<g id="g46"><circle class="g" cx="382" cy="1042" r="8"/></g>
<g id="g47"><circle class="g" cx="345" cy="1088" r="8"/></g>
<g id="g48"><circle class="g" cx="352" cy="1095" r="12"/><use href="#s2" transform="translate(352 1095) scale(12)"/></g>
<g id="g49"><circle class="g" cx="265" cy="1096" r="12"/><use href="#s3" transform="translate(265 1096) scale(12)"/></g>
<g id="g50"><circle class="g" cx="442" cy="1035" r="8"/></g>
<g id="g51"><circle class="g" cx="413" cy="1057" r="8"/></g>
<g id="g52"><circle class="g" cx="421" cy="1065" r="8"/></g>
<g id="g53"><circle class="g" cx="444" cy="1071" r="8"/></g>
<g id="g54"><circle class="g" cx="469" cy="1061" r="8"/></g>
<g id="g55"><circle class="g" cx="479" cy="1117" r="8"/></g>
<g id="g56"><circle class="g" cx="394" cy="1091" r="8"/></g>
<g id="g57"><circle class="g" cx="388" cy="1117" r="12"/><use href="#s3" transform="translate(388 1117) scale(12)"/></g>
<g id="g58"><circle class="g" cx="345" cy="1138" r="18"/><use href="#s8" transform="translate(345 1138) scale(18)"/></g>
<g id="g59"><circle class="g" cx="443" cy="1111" r="10"/><use href="#s2" transform="translate(443 1111) scale(10)"/></g>
<g id="g60"><circle class="g" cx="535" cy="1037" r="8"/></g>
<g id="g61"><circle class="g" cx="572" cy="1038" r="8"/></g>
<g id="g62"><circle class="g" cx="573" cy="1064" r="16"/><use href="#s6" transform="translate(573 1064) scale(16)"/></g>
<g id="g63"><circle class="g" cx="606" cy="1058" r="8"/></g>
<g id="g64"><circle class="g" cx="530" cy="1056" r="12"/><use href="#s2" transform="translate(530 1056) scale(12)"/></g>
<g id="g65"><circle class="g" cx="522" cy="1065" r="8"/></g>
<g id="g66"><circle class="g" cx="512" cy="1074" r="14"/><use href="#s3" transform="translate(512 1074) scale(14)"/></g>
<g id="g67"><circle class="g" cx="500" cy="1088" r="14"/><use href="#s4" transform="translate(500 1088) scale(14)"/></g>
<g id="g68"><circle class="g" cx="484" cy="1100" r="8"/></g>
<g id="g69"><circle class="g" cx="555" cy="1091" r="8"/></g>
<g id="g70"><circle class="g" cx="532" cy="1112" r="8"/></g>
<g id="g71"><circle class="g" cx="560" cy="1114" r="8"/></g>
<g id="g72"><circle class="g" cx="582" cy="1117" r="8"/></g>
<g id="g73"><circle class="g" cx="597" cy="1105" r="8"/></g>
<g id="g74"><circle class="g" cx="579" cy="1145" r="8"/></g>
<g id="g75"><circle class="g" cx="413" cy="1137" r="8"/></g>
<g id="g76"><circle class="g" cx="424" cy="1145" r="8"/></g>
<g id="g77"><circle class="g" cx="437" cy="1154" r="12"/><use href="#s2" transform="translate(437 1154) scale(12)"/></g>
<g id="g78"><circle class="g" cx="464" cy="1145" r="8"/></g>
<g id="g79"><circle class="g" cx="455" cy="1175" r="12"/><use href="#s3" transform="translate(455 1175) scale(12)"/></g>
<g id="g80"><circle class="g" cx="483" cy="1176" r="8"/></g>
<g id="g81"><circle class="g" cx="489" cy="1150" r="8"/></g>
<g id="g82"><circle class="g" cx="510" cy="1181" r="8"/></g>
<g id="g83"><circle class="g" cx="516" cy="1149" r="8"/></g>
<g id="g84"><circle class="g" cx="381" cy="1156" r="8"/></g>
<g id="g85"><circle class="g" cx="383" cy="1170" r="14"/><use href="#s4" transform="translate(383 1170) scale(14)"/></g>
<g id="g86"><circle class="g" cx="403" cy="1199" r="8"/></g>
<g id="g87"><circle class="g" cx="373" cy="1205" r="8"/></g>
<g id="g88"><circle class="g" cx="436" cy="1199" r="12"/><use href="#s2" transform="translate(436 1199) scale(12)"/></g>
<g id="g89"><circle class="g" cx="480" cy="1202" r="10"/></g>
<g id="g90"><circle class="g" cx="496" cy="1214" r="10"/><use href="#s2" transform="translate(496 1214) scale(10)"/></g>
<g id="g91"><circle class="g" cx="464" cy="1221" r="14"/><use href="#s4" transform="translate(464 1221) scale(14)"/></g>
<g id="g92"><circle class="g" cx="518" cy="1201" r="8"/></g>
<g id="g93"><circle class="g" cx="535" cy="1202" r="8"/></g>
<g id="g94"><circle class="g" cx="548" cy="1197" r="8"/></g>
<g id="g95"><circle class="g" cx="584" cy="1221" r="8"/></g>
<g id="g96"><circle class="g" cx="576" cy="1246" r="8"/></g>
<g id="g97"><circle class="g" cx="524" cy="1243" r="8"/></g>
<g id="g98"><circle class="g" cx="534" cy="1236" r="8"/></g>
<g id="g99" transform="translate(376 1255)"><circle class="g" r="32"/><use href="#s24" transform="scale(32)"/><circle class="o" r="32"/></g>
<g id="g100"><circle class="g" cx="395" cy="1267" r="8"/></g>
<g id="g101"><circle class="g" cx="408" cy="1232" r="8"/></g>
<g id="g102"><circle class="g" cx="408" cy="1296" r="8"/></g>
<g id="g103"><circle class="g" cx="334" cy="1302" r="12"/><use href="#s2" transform="translate(334 1302) scale(12)"/></g>
<g id="g104"><circle class="g" cx="345" cy="1308" r="8"/></g>
<g id="g105"><circle class="g" cx="360" cy="1314" r="8"/></g>
<g id="g106"><circle class="g" cx="345" cy="1331" r="8"/></g>
<g id="g107"><circle class="g" cx="316" cy="1357" r="8"/></g>
<g id="g108"><circle class="g" cx="289" cy="1383" r="8"/></g>
<g id="g109"><circle class="g" cx="296" cy="1389" r="8"/></g>
<g id="g110"><circle class="g" cx="304" cy="1393" r="8"/></g>
<g id="g111"><circle class="g" cx="387" cy="1393" r="8"/></g>
<g id="g112"><circle class="g" cx="362" cy="1487" r="8"/></g>
<g id="g113"><circle class="g" cx="473" cy="1264" r="8"/></g>
<g id="g114"><circle class="g" cx="491" cy="1279" r="8"/></g>
<g id="g115"><circle class="g" cx="454" cy="1285" r="8"/></g>
<g id="g116"><circle class="g" cx="486" cy="1301" r="12"/><use href="#s2" transform="translate(486 1301) scale(12)"/></g>
<g id="g117"><circle class="g" cx="477" cy="1322" r="8"/></g>
<g id="g118"><circle class="g" cx="477" cy="1358" r="8"/></g>
<g id="g119"><circle class="g" cx="473" cy="1436" r="8"/></g>
<g id="g120"><circle class="g" cx="468" cy="1492" r="8"/></g>
<g id="g121"><circle class="g" cx="622" cy="1334" r="8"/></g>
</g>
<g id="legend" class="lg">
<rect class="g" x="1048" y="15" width="14" height="14"/><text x="1078" y="29">This study</text>
<rect class="us" x="1048" y="36" width="14" height="14"/><text x="1078" y="50">United States</text>
<rect class="sk" x="1048" y="57" width="14" height="14"/><text x="1078" y="71">South Korea</text>
<rect class="kz" x="1048" y="78" width="14" height="14"/><text x="1078" y="92">Kazakhstan</text>
<rect class="pt" x="1048" y="99" width="14" height="14"/><text x="1078" y="113">Portugal</text>
<rect class="cr" x="1048" y="120" width="14" height="14"/><text x="1078" y="134">Costa Rica</text>
<rect class="br" x="1048" y="141" width="14" height="14"/><text x="1078" y="155">Brazil</text>
<rect class="it" x="1048" y="162" width="14" height="14"/><text x="1078" y="176">Italia</text>
<rect class="cn" x="1048" y="183" width="14" height="14"/><text x="1078" y="197">China</text>
<rect class="in" x="1048" y="204" width="14" height="14"/><text x="1078" y="218">India</text>
<rect class="uk" x="1048" y="225" width="14" height="14"/><text x="1078" y="239">United Kingdom</text>
<rect class="fr" x="1048" y="246" width="14" height="14"/><text x="1078" y="260">France</text>
<rect class="bd" x="1048" y="267" width="14" height="14"/><text x="1078" y="281">Bangladesh</text>
<rect class="en" x="1203" y="28" width="14" height="14"/><text x="1233" y="42">England</text>
<rect class="de" x="1203" y="49" width="14" height="14"/><text x="1233" y="63">Germany</text>
<rect class="be" x="1203" y="70" width="14" height="14"/><text x="1233" y="84">Belgium</text>
<rect class="mn" x="1203" y="91" width="14" height="14"/><text x="1233" y="105">Mongolia</text>
<rect class="tr" x="1203" y="112" width="14" height="14"/><text x="1233" y="126">Turkey</text>
<rect class="ch" x="1203" y="133" width="14" height="14"/><text x="1233" y="147">Switzerland</text>
<rect class="es" x="1203" y="154" width="14" height="14"/><text x="1233" y="168">Spain</text>
<rect class="mr" x="1203" y="175" width="14" height="14"/><text x="1233" y="189">Mauritania</text>
<rect class="gr" x="1203" y="196" width="14" height="14"/><text x="1233" y="210">Greece</text>
<rect class="sy" x="1203" y="217" width="14" height="14"/><text x="1233" y="231">Syria</text>
<rect class="ca" x="1203" y="238" width="14" height="14"/><text x="1233" y="252">Canada</text>
<rect class="ar" x="1203" y="259" width="14" height="14"/><text x="1233" y="273">Argentina</text>
</g>
</svg>
